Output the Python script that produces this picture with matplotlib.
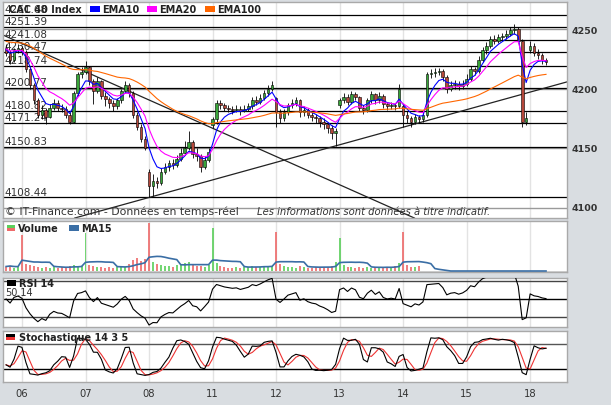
import numpy as np
import pandas as pd
import matplotlib
matplotlib.use("Agg")
import matplotlib.pyplot as plt
from matplotlib.patches import Rectangle

W, H = 611, 406

# 30-minute-ish bars (16 per session)
closes = [4230, 4224, 4232, 4234, 4231, 4216, 4203, 4190, 4178, 4182,
          4176, 4184, 4188, 4184, 4183, 4178, 4172, 4196, 4212, 4214,
          4218, 4206, 4198, 4206, 4194, 4191, 4188, 4185, 4190, 4198,
          4203, 4196, 4178, 4168, 4158, 4150, 4118, 4122, 4121, 4130,
          4134, 4137, 4136, 4141, 4146, 4150, 4155, 4145, 4143, 4134,
          4140, 4147, 4174, 4188, 4186, 4184, 4183, 4182, 4183, 4181,
          4183, 4185, 4190, 4189, 4192, 4196, 4200, 4203, 4180, 4175,
          4180, 4186, 4188, 4190, 4180, 4182, 4178, 4176, 4175, 4172,
          4170, 4167, 4163, 4164, 4190, 4193, 4189, 4195, 4193, 4184,
          4182, 4190, 4195, 4190, 4194, 4187, 4185, 4186, 4185, 4200,
          4178, 4175, 4172, 4176, 4174, 4178, 4212, 4213, 4214, 4215,
          4210, 4200, 4203, 4204, 4202, 4204, 4208, 4216, 4215, 4224,
          4232, 4236, 4242, 4240, 4243, 4244, 4246, 4249, 4250, 4240,
          4172, 4175, 4236, 4230, 4228, 4224, 4222]
highs = [4237, 4232, 4234, 4237, 4236, 4232, 4218, 4205, 4192, 4186,
         4184, 4187, 4191, 4190, 4187, 4185, 4180, 4198, 4214, 4218,
         4223, 4219, 4208, 4210, 4207, 4197, 4193, 4190, 4192, 4200,
         4206, 4205, 4198, 4180, 4170, 4160, 4132, 4128, 4126, 4133,
         4137, 4140, 4141, 4144, 4150, 4156, 4164, 4157, 4150, 4145,
         4143, 4150, 4176, 4190, 4190, 4188, 4186, 4185, 4186, 4185,
         4186, 4188, 4193, 4194, 4195, 4199, 4203, 4206, 4193, 4183,
         4183, 4188, 4191, 4193, 4191, 4185, 4184, 4180, 4179, 4177,
         4175, 4172, 4169, 4167, 4192, 4196, 4195, 4198, 4197, 4194,
         4186, 4192, 4198, 4196, 4197, 4195, 4189, 4189, 4188, 4204,
         4187, 4181, 4177, 4179, 4178, 4181, 4214, 4216, 4217, 4217,
         4216, 4211, 4206, 4207, 4206, 4207, 4212, 4219, 4218, 4227,
         4235, 4239, 4244, 4245, 4246, 4247, 4249, 4252, 4254, 4252,
         4242, 4180, 4240, 4238, 4233, 4230, 4226]
lows = [4227, 4221, 4222, 4230, 4228, 4214, 4200, 4187, 4175, 4174,
        4170, 4175, 4182, 4181, 4180, 4175, 4170, 4171, 4194, 4209,
        4212, 4203, 4187, 4196, 4191, 4185, 4184, 4181, 4183, 4188,
        4196, 4193, 4175, 4165, 4155, 4148, 4108.44, 4110, 4116, 4119,
        4128, 4131, 4132, 4134, 4139, 4144, 4148, 4142, 4139, 4130,
        4132, 4138, 4167, 4170, 4183, 4181, 4180, 4179, 4180, 4178,
        4180, 4181, 4183, 4186, 4187, 4190, 4194, 4198, 4168, 4171,
        4173, 4178, 4184, 4185, 4176, 4177, 4175, 4173, 4171, 4168,
        4166, 4163, 4158, 4152, 4184, 4188, 4186, 4187, 4190, 4181,
        4179, 4180, 4188, 4187, 4188, 4184, 4182, 4183, 4182, 4184,
        4168, 4171, 4168, 4170, 4171, 4172, 4176, 4209, 4210, 4211,
        4206, 4196, 4198, 4200, 4199, 4200, 4202, 4206, 4211, 4213,
        4222, 4229, 4234, 4237, 4238, 4240, 4242, 4244, 4246, 4238,
        4168, 4169, 4230, 4227, 4225, 4221, 4220]
first_open = 4234
gap_opens = {36: 4130, 52: 4169, 68: 4192, 84: 4186, 100: 4185, 132: 4232}

volumes = [9, 11, 7, 8, 73, 14, 12, 10, 9, 7,
           8, 6, 9, 7, 8, 6, 10, 12, 9, 11,
           76, 13, 10, 8, 9, 7, 8, 6, 9, 10,
           8, 14, 22, 26, 20, 24, 96, 18, 14, 12,
           10, 11, 9, 12, 14, 16, 18, 12, 10, 11,
           9, 12, 86, 16, 10, 8, 7, 6, 8, 7,
           9, 8, 10, 9, 8, 10, 9, 11, 78, 14,
           10, 9, 8, 7, 10, 8, 6, 7, 8, 7,
           9, 8, 10, 18, 67, 12, 9, 8, 7, 9,
           6, 8, 7, 6, 8, 7, 9, 8, 10, 16,
           78, 12, 9, 8, 10, 0, 0, 0, 0, 0,
           0, 0, 0, 0, 0, 0, 0, 0, 0, 0,
           0, 0, 0, 0, 0, 0, 0, 0, 0, 0,
           0, 0, 0, 0, 0, 0, 0]

day_labels = ['06', '07', '08', '11', '12', '13', '14', '15', '18']
first_day_bar = 4
bars_per_day = 16

level_values = [4261.68, 4251.39, 4241.08, 4230.47, 4218.74,
                4200.77, 4180.82, 4171.24, 4150.83, 4108.44]
price_ticks = [4250, 4200, 4150, 4100]

ema_names = ['EMA10', 'EMA20', 'EMA100']
ema_spans = [5, 10, 47]          # same time span on the coarser bars
ema_start = [4234, 4234, 4240]
ema_colors = ['#0000ff', '#ff00ff', '#ff6600']

down_line = [(0, 4243.8), (100, 4095.4)]
up_line = [(36, 4108.44), (83, 4151.8)]

rsi_period = 12
rsi_levels = [70, 50, 30]
stoch_period, stoch_slow, stoch_d = 7, 2, 3
stoch_levels = [80, 20]

bg = '#d9dde1'
up_col = '#38a438'
down_col = '#b5473a'
x0_px, pitch_px = 6.1, 3.97

fig = plt.figure(figsize=(W / 100, H / 100), dpi=100, facecolor=bg)


def rect(x0, y0, x1, y1):
    return [x0 / W, 1 - y1 / H, (x1 - x0) / W, (y1 - y0) / H]


def ftext(x, y, s, **kw):
    kw.setdefault('color', '#333333')
    kw.setdefault('va', 'center')
    fig.text(x / W, 1 - y / H, s, **kw)


def swatch(x, y, w, h, color):
    fig.add_artist(Rectangle((x / W, 1 - (y + h) / H), w / W, h / H,
                             transform=fig.transFigure, fc=color, ec='none'))


ax = fig.add_axes(rect(3, 3, 567, 219))
axv = fig.add_axes(rect(3, 222, 567, 273))
axr = fig.add_axes(rect(3, 279, 567, 328))
axs = fig.add_axes(rect(3, 332, 567, 383))

n = len(closes)
xs = np.arange(n)
day_idx = [first_day_bar + bars_per_day * k for k in range(len(day_labels))]

for a in (ax, axv, axr, axs):
    a.set_facecolor('white')
    a.set_xlim((3 - x0_px) / pitch_px, (567 - x0_px) / pitch_px)
    a.set_xticks([])
    a.set_yticks([])
    for s in a.spines.values():
        s.set_color('#a9a9a9')
        s.set_linewidth(1)
    for d in day_idx:
        a.axvline(d, color='#e3e3e3', lw=1, zorder=0)

# ---- price panel
ax.set_ylim(4091.2, 4272.7)
for p in price_ticks:
    ax.axhline(p, color='#9a9a9a', lw=1, zorder=1)
for lv in level_values:
    ax.axhline(lv, color='black', lw=0.9, zorder=1.5)
    ax.text(-0.3, lv + 0.8, '%.2f' % lv, fontsize=7.5, color='#333333',
            va='bottom', ha='left', zorder=1.6)

ax.axline(down_line[0], down_line[1], color='#222222', lw=0.9, zorder=2)
ax.axline(up_line[0], up_line[1], color='#222222', lw=0.9, zorder=2)

opens = [first_open] + closes[:-1]
for k, v in gap_opens.items():
    opens[k] = v

ax.vlines(xs, lows, highs, color='black', lw=0.6, zorder=3)
for i in range(n):
    o, c = opens[i], closes[i]
    col = up_col if c >= o else down_col
    ax.add_patch(Rectangle((i - 0.33, min(o, c)), 0.66, max(abs(c - o), 0.5),
                           fc=col, ec='black', lw=0.4, zorder=3.5))

for span, start, col in zip(ema_spans, ema_start, ema_colors):
    a = 2.0 / (span + 1)
    e = start
    vals = []
    for c in closes:
        e = e + a * (c - e)
        vals.append(e)
    ax.plot(xs, vals, color=col, lw=0.8, zorder=4)

# ---- volume panel
axv.set_ylim(-2, 100)
vcols = ['#5ccf5c' if closes[i] >= opens[i] else '#ee6a6a' for i in range(n)]
axv.bar(xs, volumes, width=0.5, color=vcols, alpha=0.85, zorder=2)
ma15 = pd.Series(volumes).rolling(8, min_periods=1).mean()
axv.plot(xs, ma15, color='#3a6ea5', lw=1.2, zorder=3)
axv.axhline(-1, color='#cfcfcf', lw=2, zorder=1)

# ---- RSI panel
axr.set_ylim(18.9, 73.3)
ag, al = 3.0, 3.0
rsi = []
prev = closes[0]
for c in closes:
    d = c - prev
    prev = c
    ag = (ag * (rsi_period - 1) + max(d, 0)) / rsi_period
    al = (al * (rsi_period - 1) + max(-d, 0)) / rsi_period
    rsi.append(100 - 100 / (1 + ag / al) if al > 0 else 100)
for lv in rsi_levels:
    axr.axhline(lv, color='black' if lv == 50 else '#444444', lw=1, zorder=1)
axr.plot(xs, rsi, color='black', lw=0.8, zorder=3)

# ---- stochastic panel
axs.set_ylim(-11.2, 111.2)
cl = pd.Series(closes, dtype=float)
hh = pd.Series(highs, dtype=float).rolling(stoch_period, min_periods=1).max()
ll = pd.Series(lows, dtype=float).rolling(stoch_period, min_periods=1).min()
raw_k = 100 * (cl - ll) / (hh - ll)
k_line = raw_k.rolling(stoch_slow, min_periods=1).mean()
d_line = k_line.rolling(stoch_d, min_periods=1).mean()
for lv in stoch_levels:
    axs.axhline(lv, color='#555555' if lv == 80 else 'black', lw=1, zorder=1)
axs.plot(xs, d_line, color='#ee3333', lw=0.8, zorder=3)
axs.plot(xs, k_line, color='black', lw=0.8, zorder=4)

# ---- texts and legends
ftext(9, 10, 'CAC 40 Index', fontsize=7, fontweight='bold', color='#222222')
lx = [90, 147, 205]
for x, name, col in zip(lx, ema_names, ema_colors):
    swatch(x, 7, 10, 6, col)
    ftext(x + 12, 10, name, fontsize=7, fontweight='bold', color='#222222')

ypix = lambda p: 30 + (4250 - p) * 1.19
for p in price_ticks:
    ftext(572, ypix(p) + (1 if p != 4100 else 0), str(p), fontsize=6.8,
          fontweight='bold')

ftext(5, 212, '\u00a9 IT-Finance.com - Donn\u00e9es en temps-r\u00e9el', fontsize=7.8)
ftext(257, 212, 'Les informations sont donn\u00e9es \u00e0 titre indicatif.',
      fontsize=7.2, style='italic')

swatch(7, 226, 8, 3, '#5ccf5c')
swatch(7, 229, 8, 3, '#ee6a6a')
ftext(18, 229, 'Volume', fontsize=7, fontweight='bold', color='#222222')
swatch(69, 226, 10, 6, '#3a6ea5')
ftext(81, 229, 'MA15', fontsize=7, fontweight='bold', color='#222222')

swatch(7, 281, 9, 6, 'black')
ftext(19, 284, 'RSI 14', fontsize=7, fontweight='bold', color='#222222')
ftext(5, 293, '50.14', fontsize=7)

swatch(6, 335, 9, 3, 'black')
swatch(6, 338, 9, 3, '#ee3333')
ftext(19, 338, 'Stochastique 14 3 5', fontsize=7, fontweight='bold',
      color='#222222')

for d, lab in zip(day_idx, day_labels):
    ftext(x0_px + pitch_px * d, 394, lab, fontsize=7.2, ha='center')

fig.savefig('out.png', dpi=100, facecolor=bg)
